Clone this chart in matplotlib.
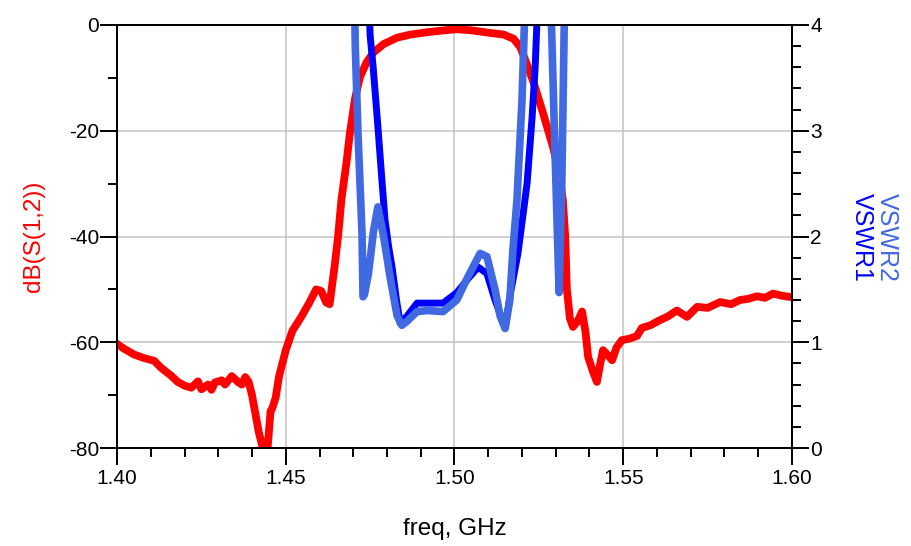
import matplotlib
matplotlib.use("Agg")
import matplotlib.pyplot as plt
from matplotlib.ticker import MultipleLocator, FormatStrFormatter

# ================================
# Data
# ================================
s12_freq = [1.400, 1.402, 1.405, 1.408, 1.411, 1.413, 1.416, 1.418, 1.420, 1.422,
            1.424, 1.425, 1.427, 1.428, 1.429, 1.431, 1.432, 1.434, 1.436, 1.437,
            1.438, 1.439, 1.440, 1.441, 1.442, 1.443, 1.4435, 1.4445, 1.445, 1.4455,
            1.446, 1.447, 1.448, 1.450, 1.452, 1.4545, 1.457, 1.459, 1.4605, 1.462,
            1.463, 1.4645, 1.4655, 1.4665, 1.468, 1.469, 1.4705, 1.472, 1.474, 1.476,
            1.479, 1.483, 1.487, 1.4927, 1.497, 1.5007, 1.505, 1.5105, 1.5145, 1.5175,
            1.5195, 1.5215, 1.5235, 1.5262, 1.5292, 1.531, 1.5321, 1.5328, 1.5333, 1.5342,
            1.5351, 1.5365, 1.5378, 1.5388, 1.5396, 1.541, 1.5422, 1.5432, 1.544, 1.5455,
            1.5467, 1.548, 1.5496, 1.552, 1.5541, 1.5555, 1.558, 1.5609, 1.563, 1.5659,
            1.5689, 1.5719, 1.575, 1.5787, 1.582, 1.5846, 1.587, 1.5896, 1.592, 1.5944,
            1.597, 1.600]
s12_db = [-60.3, -61.2, -62.3, -63.0, -63.5, -64.8, -66.3, -67.5, -68.2, -68.6,
          -67.4, -68.9, -68.0, -69.0, -67.6, -67.2, -68.0, -66.4, -67.6, -68.0,
          -66.6, -67.5, -70.0, -73.5, -77.0, -79.5, -81.0, -81.0, -77.0, -73.0,
          -72.5, -70.5, -66.5, -61.5, -57.8, -55.3, -52.5, -50.0, -50.3, -52.5,
          -52.8, -45.5, -40.0, -33.0, -26.0, -20.5, -14.0, -9.8, -7.0, -5.2,
          -3.6, -2.4, -1.8, -1.3, -1.0, -0.8, -1.0, -1.5, -1.8, -2.6,
          -4.2, -7.5, -11.0, -16.6, -23.1, -28.0, -33.1, -40.0, -50.0, -55.5,
          -57.1, -56.0, -54.2, -58.0, -62.8, -65.5, -67.5, -64.0, -61.5, -62.5,
          -63.4, -61.0, -59.6, -59.3, -58.8, -57.3, -56.8, -55.8, -55.2, -54.0,
          -55.2, -53.3, -53.5, -52.4, -52.8, -52.0, -51.8, -51.3, -51.6, -50.8,
          -51.2, -51.5]

vswr1_freq = [1.4745, 1.4750, 1.4759, 1.4773, 1.4785, 1.4794, 1.4805, 1.4815, 1.4828, 1.4839,
              1.486, 1.4889, 1.4966, 1.5007, 1.504, 1.507, 1.5096, 1.512, 1.515, 1.5165,
              1.5188, 1.5215, 1.523, 1.5239, 1.525]
vswr1 = [4.4, 3.9, 3.6, 3.04, 2.53, 2.16, 1.9, 1.71, 1.4, 1.18,
         1.25, 1.37, 1.37, 1.47, 1.6, 1.71, 1.65, 1.4, 1.14, 1.45,
         1.84, 2.5, 3.13, 3.6, 4.5]

vswr2_freq = [1.4702, 1.4706, 1.4714, 1.4726, 1.4729, 1.4733, 1.4745, 1.476, 1.4773, 1.479,
              1.481, 1.483, 1.4844, 1.486, 1.4889, 1.492, 1.4966, 1.5007, 1.504, 1.5076,
              1.5096, 1.512, 1.5135, 1.515, 1.5164, 1.5173, 1.5185, 1.52, 1.5212, 1.5283,
              1.5296, 1.531, 1.5318, 1.5328]
vswr2 = [4.6, 3.8, 2.98, 2.03, 1.43, 1.45, 1.65, 2.05, 2.28, 2.0,
         1.6, 1.25, 1.16, 1.2, 1.29, 1.30, 1.29, 1.40, 1.62, 1.84,
         1.81, 1.5, 1.25, 1.13, 1.40, 1.87, 2.34, 3.29, 4.5, 4.5,
         3.0, 1.47, 2.5, 4.6]

# ================================
# Figure
# ================================
plt.rcParams["font.family"] = ["Liberation Sans", "DejaVu Sans"]
plt.rcParams["axes.unicode_minus"] = False

fig = plt.figure(figsize=(9.12, 5.46), dpi=100)
ax = fig.add_axes([117 / 912, 1 - 448 / 546, 675 / 912, 423 / 546])
ax2 = ax.twinx()

ax.plot(s12_freq, s12_db, color="#ff0000", lw=5.6, solid_joinstyle="round")
ax2.plot(vswr1_freq, vswr1, color="#0000ff", lw=5, solid_joinstyle="round")
ax2.plot(vswr2_freq, vswr2, color="#4169e1", lw=5.5, solid_joinstyle="round")

ax.set_xlim(1.40, 1.60)
ax.set_ylim(-80, 0)
ax2.set_ylim(0, 4)

ax.xaxis.set_major_locator(MultipleLocator(0.05))
ax.xaxis.set_minor_locator(MultipleLocator(0.01))
ax.xaxis.set_major_formatter(FormatStrFormatter("%.2f"))
ax.yaxis.set_major_locator(MultipleLocator(20))
ax.yaxis.set_minor_locator(MultipleLocator(10))
ax2.yaxis.set_major_locator(MultipleLocator(1))
ax2.yaxis.set_minor_locator(MultipleLocator(0.2))

ax.grid(True, which="major", color="#c4c4c4", lw=1.1)
ax.set_axisbelow(True)

for a in (ax, ax2):
    for sp in a.spines.values():
        sp.set_linewidth(1.4)
        sp.set_color("black")
    a.tick_params(which="major", length=12, width=1.4, labelsize=15, pad=1)
    a.tick_params(which="minor", length=6.5, width=1.4)
ax.tick_params(axis="x", pad=3)

ax.set_xlabel("freq, GHz", fontsize=17.5, labelpad=22)
ax.set_ylabel("dB(S(1,2))", fontsize=17.5, color="#ff0000", labelpad=17)

fig.text(887 / 912, 1 - 237 / 546, "VSWR2", color="#4169e1", fontsize=18,
         rotation=-90, ha="center", va="center")
fig.text(862 / 912, 1 - 237 / 546, "VSWR1", color="#0000ff", fontsize=18,
         rotation=-90, ha="center", va="center")

plt.savefig("out.png", dpi=100)
plt.close()
